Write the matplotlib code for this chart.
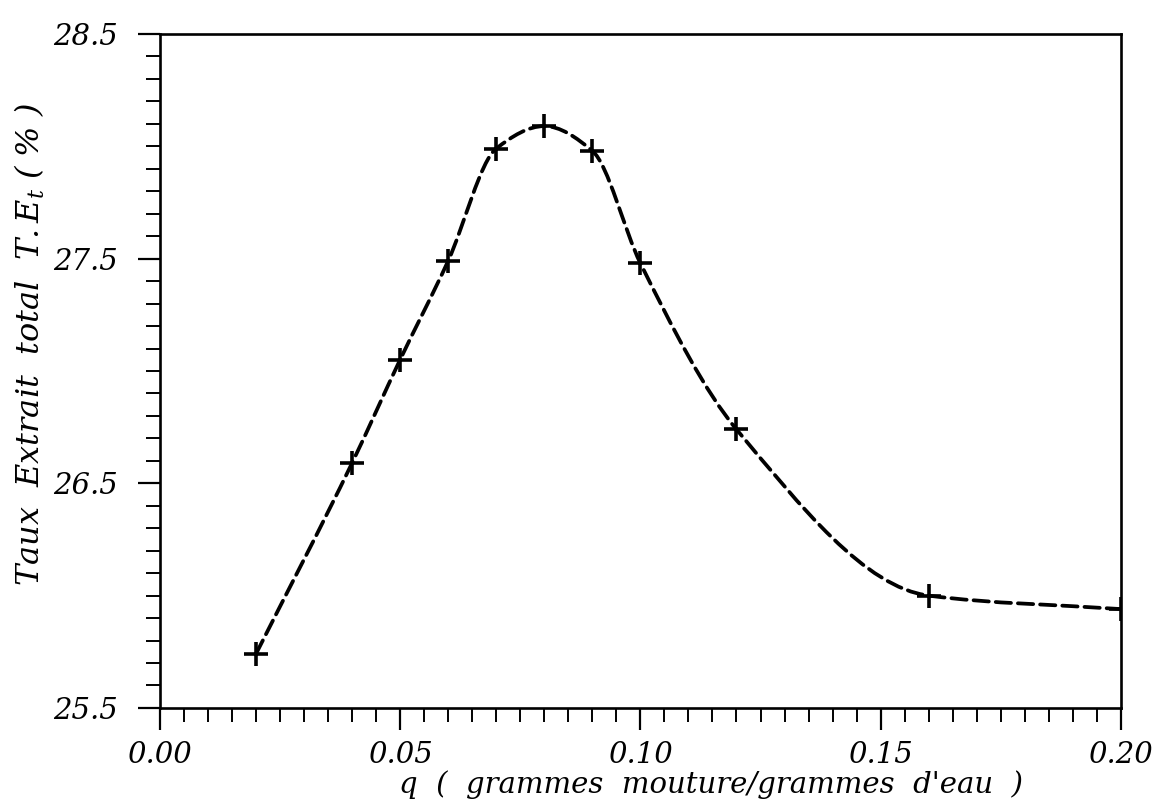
import numpy as np
import matplotlib
matplotlib.use('Agg')
import matplotlib.pyplot as plt
from matplotlib.path import Path
from matplotlib.patches import PathPatch
from matplotlib.ticker import MultipleLocator, FormatStrFormatter

# data
q = [0.02, 0.04, 0.05, 0.06, 0.07, 0.08, 0.09, 0.10, 0.12, 0.16, 0.20]
te = [25.74, 26.59, 27.05, 27.49, 27.99, 28.09, 27.98, 27.48, 26.74, 26.00, 25.94]

xticks = [0.00, 0.05, 0.10, 0.15, 0.20]
yticks = [25.5, 26.5, 27.5, 28.5]

plt.rcParams['font.family'] = ['DejaVu Serif']
plt.rcParams['font.style'] = 'italic'
plt.rcParams['mathtext.fontset'] = 'dejavuserif'
plt.rcParams['lines.scale_dashes'] = False


def smooth_path(x, y):
    # monotone cubic bezier through the points (tangents like pchip)
    x = np.asarray(x, dtype=float)
    y = np.asarray(y, dtype=float)
    n = len(x)
    h = np.diff(x)
    d = np.diff(y) / h
    m = np.zeros(n)
    m[0] = d[0]
    m[-1] = d[-1]
    for i in range(1, n - 1):
        if d[i - 1] * d[i] > 0:
            w1 = 2 * h[i] + h[i - 1]
            w2 = h[i] + 2 * h[i - 1]
            m[i] = (w1 + w2) / (w1 / d[i - 1] + w2 / d[i])
    verts = [(x[0], y[0])]
    codes = [Path.MOVETO]
    for i in range(n - 1):
        verts += [(x[i] + h[i] / 3, y[i] + m[i] * h[i] / 3),
                  (x[i + 1] - h[i] / 3, y[i + 1] - m[i + 1] * h[i] / 3),
                  (x[i + 1], y[i + 1])]
        codes += [Path.CURVE4] * 3
    return Path(verts, codes)


fig = plt.figure(figsize=(11.58, 8.10), dpi=100)
ax = fig.add_axes([0.138, 0.126, 0.830, 0.832])

curve = PathPatch(smooth_path(q, te), facecolor='none', edgecolor='black',
                  linewidth=2.7, linestyle=(0, (11, 5)), capstyle='round')
ax.add_patch(curve)
ax.plot(q, te, linestyle='none', marker='+', color='black',
        markersize=17, markeredgewidth=2.6)

ax.set_xlim(0.0, 0.20)
ax.set_ylim(25.5, 28.5)

ax.set_xticks(xticks)
ax.set_yticks(yticks)
ax.xaxis.set_minor_locator(MultipleLocator(0.005))
ax.yaxis.set_minor_locator(MultipleLocator(0.1))
ax.xaxis.set_major_formatter(FormatStrFormatter('%.2f'))
ax.yaxis.set_major_formatter(FormatStrFormatter('%.1f'))

ax.tick_params(which='major', direction='out', length=16, width=1.6,
               labelsize=21, top=False, right=False)
ax.tick_params(which='minor', direction='out', length=10, width=1.4,
               top=False, right=False)
ax.tick_params(axis='y', which='major', pad=14)
ax.tick_params(axis='x', which='major', pad=8)

for s in ax.spines.values():
    s.set_linewidth(1.9)

ax.set_xlabel("q  (  grammes  mouture/grammes  d'eau  )", fontsize=21)
ax.set_ylabel(r"Taux  Extrait  total  $T.E_t$ ( % )", fontsize=23)
ax.xaxis.set_label_coords(0.574, -0.093)
ax.yaxis.set_label_coords(-0.117, 0.54)

plt.savefig('out.png', dpi=100)
